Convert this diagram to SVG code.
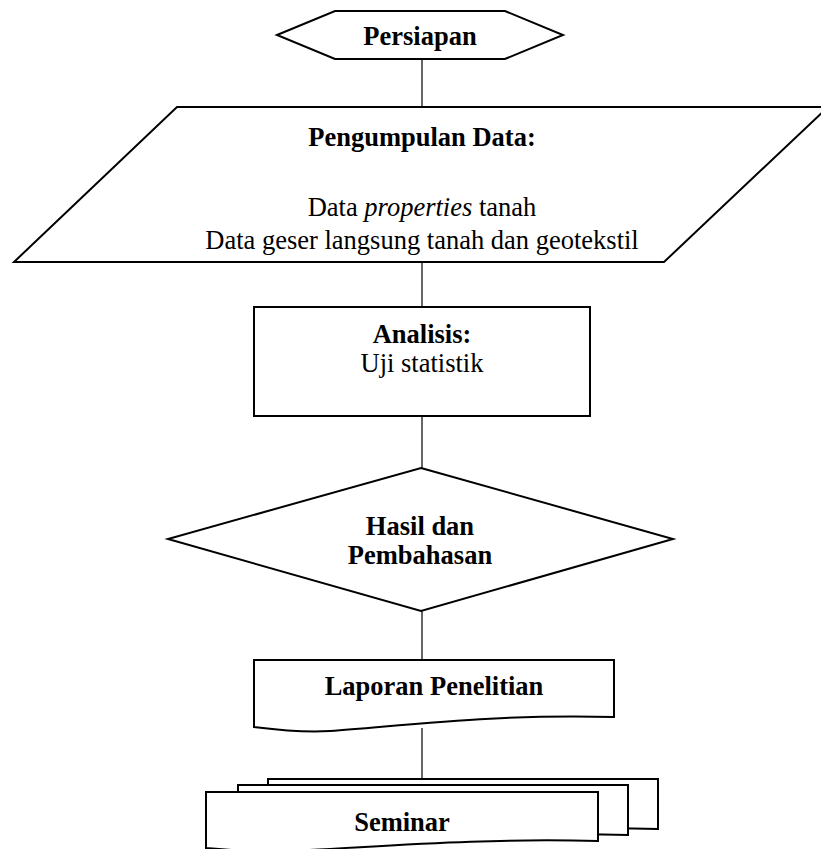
<svg xmlns="http://www.w3.org/2000/svg" width="821" height="849" viewBox="0 0 821 849">
<style>
.shape{fill:#fff;stroke:#000;stroke-width:2;stroke-linejoin:miter}
.conn{stroke:#333;stroke-width:1.5;fill:none}
text{font-family:"Liberation Serif","Times New Roman",serif;font-size:26.5px;fill:#000;text-anchor:middle}
.b{font-weight:bold}
</style>
<rect width="821" height="849" fill="#fff"/>
<g id="connectors">
<line class="conn" x1="422" y1="59" x2="422" y2="107"/>
<line class="conn" x1="422" y1="262" x2="422" y2="307"/>
<line class="conn" x1="422" y1="416" x2="422" y2="468"/>
<line class="conn" x1="422" y1="610" x2="422" y2="660"/>
<line class="conn" x1="422" y1="728" x2="422" y2="779"/>
</g>
<g id="persiapan">
<polygon class="shape" points="277,35 335,11 505,11 563,35 505,59 335,59"/>
<text class="b" x="420" y="45">Persiapan</text>
</g>
<g id="pengumpulan">
<polygon class="shape" points="177,107 828,107 664,262 14,262"/>
<text class="b" x="422" y="146">Pengumpulan Data:</text>
<text x="422" y="216">Data <tspan font-style="italic">properties</tspan> tanah</text>
<text x="422" y="249">Data geser langsung tanah dan geotekstil</text>
</g>
<g id="analisis">
<rect class="shape" x="254" y="307" width="336" height="109"/>
<text class="b" x="422" y="343">Analisis:</text>
<text x="422" y="372">Uji statistik</text>
</g>
<g id="hasil">
<polygon class="shape" points="421,468 673,539 421,611 168,539"/>
<text class="b" x="420" y="535">Hasil dan</text>
<text class="b" x="420" y="564">Pembahasan</text>
</g>
<g id="laporan">
<path class="shape" d="M254,660 H614 V717 C500,714 420,724 330,731 C300,733 270,729 254,727 Z"/>
<text class="b" x="434" y="695">Laporan Penelitian</text>
</g>
<g id="seminar">
<path class="shape" d="M268,779 H658 V829 C540,826 450,834 350,839 C320,841 290,838 268,836 Z"/>
<path class="shape" d="M238,785 H628 V835 C510,832 420,840 320,845 C290,847 260,844 238,842 Z"/>
<path class="shape" d="M206,792 H598 V841 C480,838 390,846 290,851 C260,853 230,850 206,848 Z"/>
<text class="b" x="402" y="831">Seminar</text>
</g>
</svg>
